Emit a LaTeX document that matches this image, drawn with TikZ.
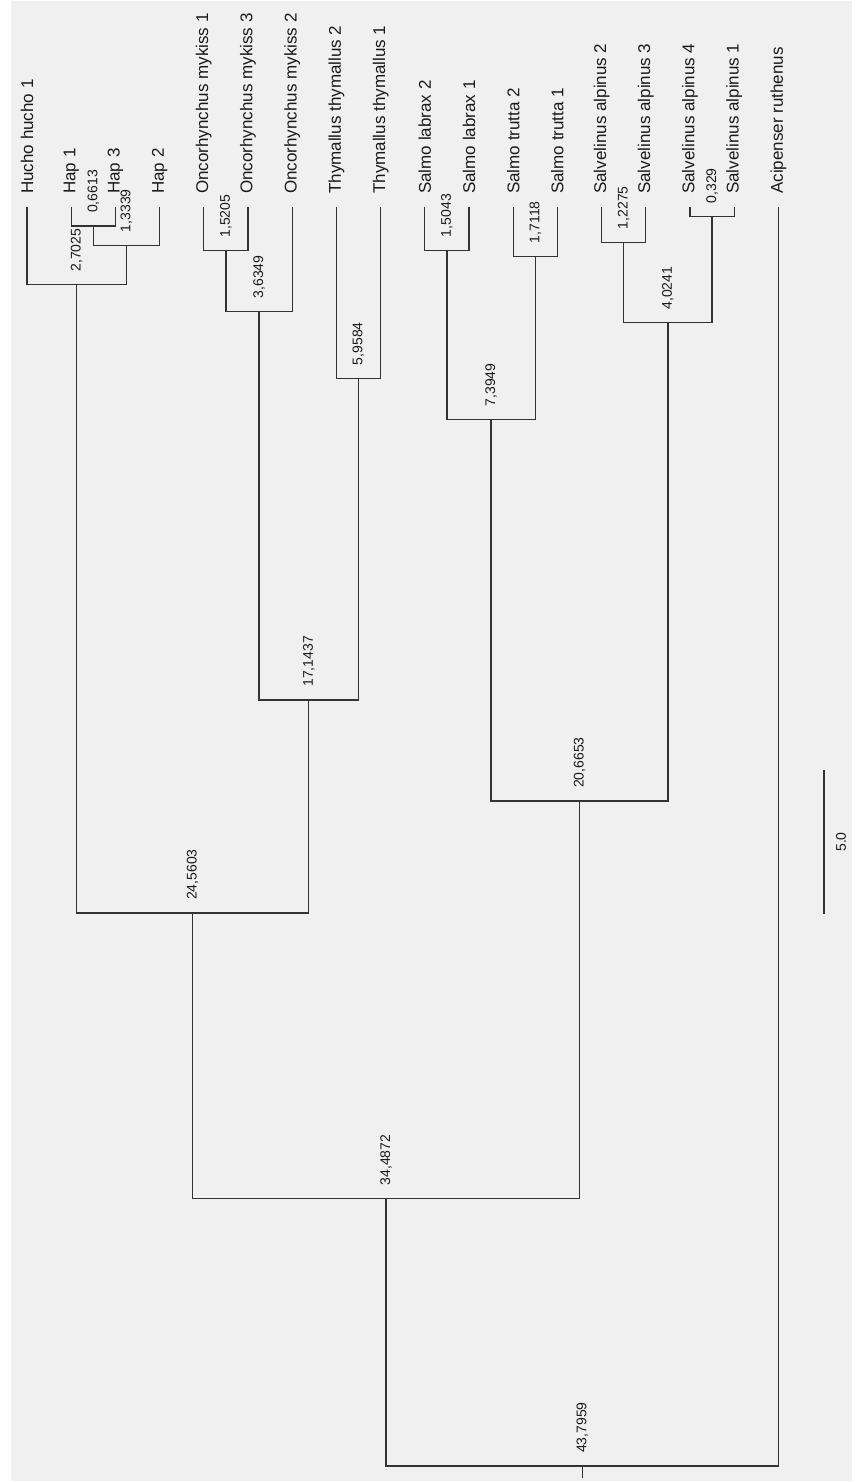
\documentclass[tikz,border=0pt]{standalone}
\usepackage{fontspec}
\setmainfont{Liberation Sans}
\definecolor{bgc}{HTML}{F0F0F0}
\definecolor{linec}{HTML}{333333}
\definecolor{textc}{HTML}{1A1A1A}
\begin{document}
\begin{tikzpicture}[x=1pt,y=-1pt,
  branch/.style={draw=linec,line width=1.3pt},
  leaflab/.style={rotate=90,anchor=west,inner sep=0pt,text=textc,font=\fontsize{17}{20}\selectfont},
  vallab/.style={rotate=90,anchor=west,inner sep=0pt,text=textc,font=\fontsize{14}{16}\selectfont}]
\useasboundingbox (0,0) rectangle (856,1482);
\fill[bgc] (11,1) rectangle (852,1481);
% leaves
\coordinate (l0) at (27.0,207);
\coordinate (l1) at (71.2,207);
\coordinate (l2) at (115.4,207);
\coordinate (l3) at (159.6,207);
\coordinate (l4) at (203.8,207);
\coordinate (l5) at (248.0,207);
\coordinate (l6) at (292.2,207);
\coordinate (l7) at (336.4,207);
\coordinate (l8) at (380.6,207);
\coordinate (l9) at (424.8,207);
\coordinate (l10) at (469.0,207);
\coordinate (l11) at (513.2,207);
\coordinate (l12) at (557.4,207);
\coordinate (l13) at (601.6,207);
\coordinate (l14) at (645.8,207);
\coordinate (l15) at (690.0,207);
\coordinate (l16) at (734.2,207);
\coordinate (l17) at (778.4,207);
\node[leaflab] (t0) at (27.0,194) {Hucho hucho 1};
\node[leaflab] (t1) at (71.2,194) {Hap 1};
\node[leaflab] (t2) at (115.4,194) {Hap 3};
\node[leaflab] (t3) at (159.6,194) {Hap 2};
\node[leaflab] (t4) at (203.8,194) {Oncorhynchus mykiss 1};
\node[leaflab] (t5) at (248.0,194) {Oncorhynchus mykiss 3};
\node[leaflab] (t6) at (292.2,194) {Oncorhynchus mykiss 2};
\node[leaflab] (t7) at (336.4,194) {Thymallus thymallus 2};
\node[leaflab] (t8) at (380.6,194) {Thymallus thymallus 1};
\node[leaflab] (t9) at (424.8,194) {Salmo labrax 2};
\node[leaflab] (t10) at (469.0,194) {Salmo labrax 1};
\node[leaflab] (t11) at (513.2,194) {Salmo trutta 2};
\node[leaflab] (t12) at (557.4,194) {Salmo trutta 1};
\node[leaflab] (t13) at (601.6,194) {Salvelinus alpinus 2};
\node[leaflab] (t14) at (645.8,194) {Salvelinus alpinus 3};
\node[leaflab] (t15) at (690.0,194) {Salvelinus alpinus 4};
\node[leaflab] (t16) at (734.2,194) {Salvelinus alpinus 1};
\node[leaflab] (t17) at (778.4,194) {Acipenser ruthenus};
% internal nodes
\coordinate (a) at (93.3,226.0);
\coordinate (b) at (126.45,245.3);
\coordinate (c) at (76.7,284.7);
\coordinate (d) at (225.9,250.7);
\coordinate (e) at (259.05,311.5);
\coordinate (f) at (358.5,378.3);
\coordinate (g) at (308.8,699.9);
\coordinate (h) at (192.7,913.1);
\coordinate (i) at (446.9,250.2);
\coordinate (j) at (535.3,256.2);
\coordinate (k) at (491.1,419.6);
\coordinate (m) at (623.7,242.3);
\coordinate (n) at (712.1,216.5);
\coordinate (o) at (667.9,322.7);
\coordinate (p) at (579.5,801.1);
\coordinate (q) at (386.1,1198.5);
\coordinate (r) at (582.25,1466.1);
\coordinate (rend) at (582.25,1478);
% branches
\draw[branch] (a) -| (l1); \draw[branch] (a) -| (l2);
\draw[branch] (b) -| (a);  \draw[branch] (b) -| (l3);
\draw[branch] (c) -| (l0); \draw[branch] (c) -| (b);
\draw[branch] (d) -| (l4); \draw[branch] (d) -| (l5);
\draw[branch] (e) -| (d);  \draw[branch] (e) -| (l6);
\draw[branch] (f) -| (l7); \draw[branch] (f) -| (l8);
\draw[branch] (g) -| (e);  \draw[branch] (g) -| (f);
\draw[branch] (h) -| (c);  \draw[branch] (h) -| (g);
\draw[branch] (i) -| (l9); \draw[branch] (i) -| (l10);
\draw[branch] (j) -| (l11); \draw[branch] (j) -| (l12);
\draw[branch] (k) -| (i);  \draw[branch] (k) -| (j);
\draw[branch] (m) -| (l13); \draw[branch] (m) -| (l14);
\draw[branch] (n) -| (l15); \draw[branch] (n) -| (l16);
\draw[branch] (o) -| (m);  \draw[branch] (o) -| (n);
\draw[branch] (p) -| (k);  \draw[branch] (p) -| (o);
\draw[branch] (q) -| (h);  \draw[branch] (q) -| (p);
\draw[branch] (r) -| (q);  \draw[branch] (r) -| (l17);
\draw[branch] (r) -- (rend);
% value labels
\node[vallab] (va) at (93.3,213.0) {0,6613};
\node[vallab] (vb) at (126.45,232.3) {1,3339};
\node[vallab] (vc) at (76.7,271.7) {2,7025};
\node[vallab] (vd) at (225.9,237.7) {1,5205};
\node[vallab] (ve) at (259.05,298.5) {3,6349};
\node[vallab] (vf) at (358.5,365.3) {5,9584};
\node[vallab] (vg) at (308.8,686.9) {17,1437};
\node[vallab] (vh) at (192.7,900.1) {24,5603};
\node[vallab] (vi) at (446.9,237.2) {1,5043};
\node[vallab] (vj) at (535.3,243.2) {1,7118};
\node[vallab] (vk) at (491.1,406.6) {7,3949};
\node[vallab] (vm) at (623.7,229.3) {1,2275};
\node[vallab] (vn) at (712.1,203.5) {0,329};
\node[vallab] (vo) at (667.9,309.7) {4,0241};
\node[vallab] (vp) at (579.5,788.1) {20,6653};
\node[vallab] (vq) at (386.1,1185.5) {34,4872};
\node[vallab] (vr) at (582.25,1453.1) {43,7959};
% scale bar
\coordinate (sb1) at (824,770);
\coordinate (sb2) at (824,914);
\draw[branch] (sb1) -- (sb2);
\node[rotate=90,inner sep=0pt,text=textc,font=\fontsize{14}{16}\selectfont] (sbl) at (841,842) {5.0};
\end{tikzpicture}
\end{document}
